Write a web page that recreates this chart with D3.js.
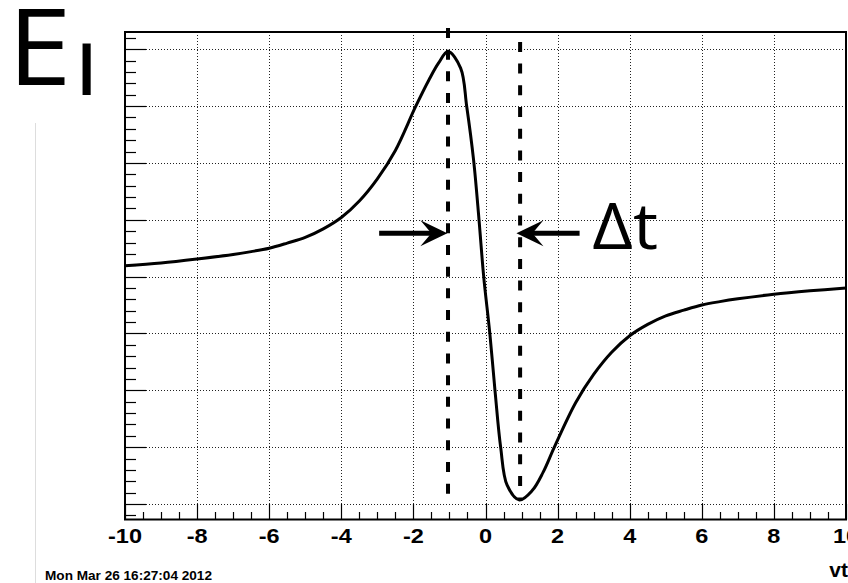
<!DOCTYPE html>
<html>
<head>
<meta charset="utf-8">
<script src="https://cdn.jsdelivr.net/npm/d3@7/dist/d3.min.js"></script>
<style>
  html, body { margin: 0; padding: 0; background: #fff; }
  svg { display: block; }
</style>
</head>
<body>
<svg id="chart" width="848" height="583"></svg>
<script>
// Field component vs. vt, sampled along the curve
const vtValues = [-10, -9, -8, -7, -6.5, -6, -5.5, -5, -4.5, -4, -3.5, -3, -2.5, -1.94, -1.57, -1.3, -1.04,
                  -0.69, -0.52, -0.33, -0.18, -0.05, 0.12, 0.27, 0.42, 0.6, 0.94,
                  1.3, 1.6, 1.91, 2.5, 3, 3.5, 4, 4.5, 5, 5.5, 6, 6.5, 7, 8, 9, 10];
const fieldValues = [0.019, 0.024, 0.031, 0.039, 0.044, 0.050, 0.059, 0.069, 0.084, 0.104, 0.133, 0.172, 0.222, 0.299, 0.346, 0.376, 0.396,
                     0.367, 0.299, 0.205, 0.100, 0.000, -0.100, -0.205, -0.300, -0.367, -0.393,
                     -0.376, -0.344, -0.300, -0.222, -0.172, -0.133, -0.104, -0.084, -0.069, -0.059, -0.050, -0.044, -0.039, -0.031, -0.025, -0.020];

// Peak / trough markers (vt, top, bottom) and the Δt arrows
const markerVt = [-1.04, 0.96];
const markerTop = [0.4375, 0.413];
const markerBottom = [-0.391, -0.393];
const arrowTailVt = [-2.95, 2.61];
const arrowTipVt = [-1.10, 0.90];
const arrowLevel = 0.0763;

const xTickValues = [-10, -8, -6, -4, -2, 0, 2, 4, 6, 8, 10];
const xDomain = [-10, 10];
const yDomain = [-0.4273, 0.4304];

const svg = d3.select("#chart");
const frameL = 125, frameR = 846, frameT = 32, frameB = 519.5;

const x = d3.scaleLinear().domain(xDomain).range([frameL, frameR]);
const y = d3.scaleLinear().domain(yDomain).range([frameB, frameT]);

// light rule at the far left
svg.append("line").attr("x1", 35.5).attr("x2", 35.5).attr("y1", 123).attr("y2", 583)
  .attr("stroke", "#ddd").attr("stroke-width", 1);

// grid
const gridX = d3.range(-8, 9, 2);
const gridY = d3.range(-4, 5).map(d => d / 10);
const grid = svg.append("g").attr("stroke", "#222").attr("stroke-width", 1)
  .attr("stroke-dasharray", "1,2");
grid.selectAll(".gx").data(gridX).join("line")
  .attr("x1", d => Math.round(x(d)) + 0.5).attr("x2", d => Math.round(x(d)) + 0.5)
  .attr("y1", frameT).attr("y2", frameB);
grid.selectAll(".gy").data(gridY).join("line")
  .attr("x1", frameL).attr("x2", frameR)
  .attr("y1", d => Math.round(y(d)) + 0.5).attr("y2", d => Math.round(y(d)) + 0.5);

// y ticks (inside, no labels)
const yMinor = d3.range(-21, 22).map(d => d / 50).filter(v => v > yDomain[0] && v < yDomain[1]);
svg.append("g").selectAll("line").data(yMinor).join("line")
  .attr("x1", frameL).attr("x2", d => frameL + (Math.abs(Math.round(d * 50) % 5) === 0 ? 21 : 11))
  .attr("y1", d => Math.round(y(d)) + 0.5).attr("y2", d => Math.round(y(d)) + 0.5)
  .attr("stroke", "#000").attr("stroke-width", 1.2);

// x ticks
const xMinor = d3.range(-20, 21).map(d => d / 2);
svg.append("g").selectAll("line").data(xMinor).join("line")
  .attr("x1", d => Math.round(x(d)) + 0.5).attr("x2", d => Math.round(x(d)) + 0.5)
  .attr("y1", frameB).attr("y2", d => frameB - (d % 2 === 0 ? 15.5 : 7.5))
  .attr("stroke", "#000").attr("stroke-width", 1.2);

// frame
svg.append("rect").attr("x", frameL).attr("y", frameT).attr("width", frameR - frameL).attr("height", frameB - frameT)
  .attr("fill", "none").attr("stroke", "#000").attr("stroke-width", 2);

// x tick labels
svg.append("g").selectAll("text").data(xTickValues).join("text")
  .attr("transform", d => `translate(${x(d)},543) scale(1.12,1)`)
  .attr("text-anchor", "middle")
  .attr("font-family", "'Liberation Sans', Arial, sans-serif").attr("font-weight", "bold")
  .attr("font-size", 21).text(d => d);

// axis title
svg.append("text").attr("x", 848).attr("y", 577).attr("text-anchor", "end")
  .attr("font-family", "'Liberation Sans', Arial, sans-serif").attr("font-weight", "bold")
  .attr("font-size", 21).text("vt");

// timestamp
svg.append("text").attr("x", 45).attr("y", 580)
  .attr("font-family", "'Liberation Sans', Arial, sans-serif").attr("font-weight", "bold")
  .attr("font-size", 13.6).text("Mon Mar 26 16:27:04 2012");

// curve
const pts = vtValues.map((v, i) => [v, fieldValues[i]]);
svg.append("path").datum(pts)
  .attr("d", d3.line().x(d => x(d[0])).y(d => y(d[1])).curve(d3.curveCatmullRom.alpha(0.5)))
  .attr("fill", "none").attr("stroke", "#000").attr("stroke-width", 3).attr("stroke-linejoin", "round");

// dashed markers
svg.append("g").selectAll("line").data(markerVt).join("line")
  .attr("x1", d => x(d)).attr("x2", d => x(d))
  .attr("y1", (d, i) => y(markerTop[i])).attr("y2", (d, i) => y(markerBottom[i]))
  .attr("stroke", "#000").attr("stroke-width", 4).attr("stroke-dasharray", "10,11.7");

// arrows
const arrows = svg.append("g");
arrowTailVt.forEach((tail, i) => {
  const x0 = x(tail), x1 = x(arrowTipVt[i]) + (i === 0 ? 1 : -1) * 1.5, yy = y(arrowLevel);
  const dir = Math.sign(x1 - x0);
  arrows.append("line").attr("x1", x0).attr("x2", x1 - dir * 14).attr("y1", yy).attr("y2", yy)
    .attr("stroke", "#000").attr("stroke-width", 5);
  const p = d3.path();
  p.moveTo(x1, yy);
  p.lineTo(x1 - dir * 27, yy - 13);
  p.lineTo(x1 - dir * 16, yy);
  p.lineTo(x1 - dir * 27, yy + 13);
  p.closePath();
  arrows.append("path").attr("d", p.toString()).attr("fill", "#000");
});

// Place a text so its inked glyphs span [x0,x1] horizontally, with the top of
// the ink at yTop and the baseline at yBase.
const measureCtx = document.createElement("canvas").getContext("2d");
function fitText(str, family, weight, x0, x1, yTop, yBase) {
  measureCtx.font = `${weight} 100px ${family}`;
  const m = measureCtx.measureText(str);
  const fs = 100 * (yBase - yTop) / m.actualBoundingBoxAscent;
  const L = m.actualBoundingBoxLeft * fs / 100, R = m.actualBoundingBoxRight * fs / 100;
  const sx = (x1 - x0) / (L + R);
  const tx = x0 + L * sx;
  return svg.append("text")
    .attr("transform", `translate(${tx},${yBase}) scale(${sx},1)`)
    .attr("font-family", family).attr("font-weight", weight)
    .attr("font-size", fs).text(str);
}

fitText("Δt", "'Open Sans'", 400, 593, 657, 203, 249);
fitText("E", "'Open Sans'", 400, 18, 65, 9, 85);
fitText("l", "'Open Sans'", 400, 82, 91, 43, 95);
</script>
</body>
</html>
